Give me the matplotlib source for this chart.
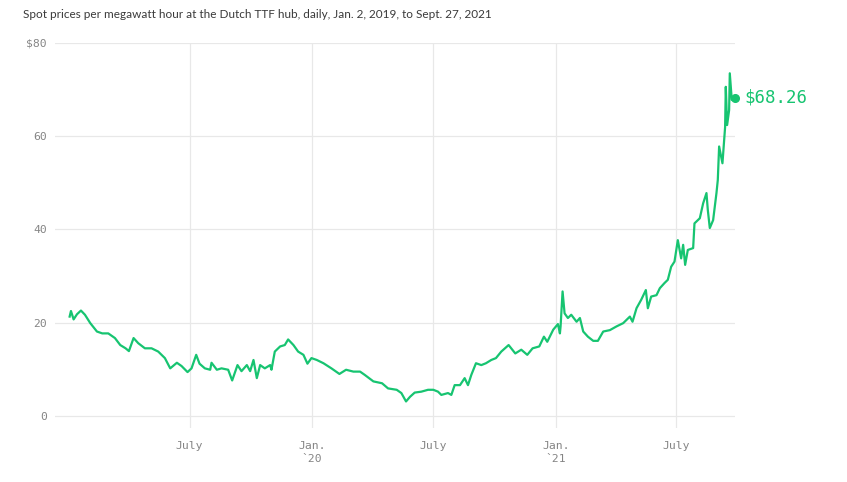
import matplotlib
matplotlib.use("Agg")
import matplotlib.pyplot as plt
import pandas as pd

title = "Spot prices per megawatt hour at the Dutch TTF hub, daily, Jan. 2, 2019, to Sept. 27, 2021"

dates = [
    "2019-01-02", "2019-01-04", "2019-01-08", "2019-01-13", "2019-01-19", "2019-01-25",
    "2019-02-02", "2019-02-12", "2019-02-20", "2019-03-01", "2019-03-11", "2019-03-19",
    "2019-03-27", "2019-04-01", "2019-04-08", "2019-04-15", "2019-04-25", "2019-05-05",
    "2019-05-15", "2019-05-25", "2019-06-02", "2019-06-12", "2019-06-19", "2019-06-28",
    "2019-07-04", "2019-07-11", "2019-07-16", "2019-07-24", "2019-08-01", "2019-08-03",
    "2019-08-11", "2019-08-18", "2019-08-28", "2019-09-03", "2019-09-11", "2019-09-17",
    "2019-09-25", "2019-09-30", "2019-10-05", "2019-10-10", "2019-10-15", "2019-10-22",
    "2019-10-30", "2019-11-01", "2019-11-06", "2019-11-14", "2019-11-21", "2019-11-26",
    "2019-12-04", "2019-12-11", "2019-12-19", "2019-12-25", "2019-12-31",
    "2020-01-08", "2020-01-18", "2020-01-30", "2020-02-11", "2020-02-21", "2020-03-03",
    "2020-03-13", "2020-03-20", "2020-04-02", "2020-04-15", "2020-04-24", "2020-05-07",
    "2020-05-14", "2020-05-21", "2020-05-27", "2020-06-03", "2020-06-13", "2020-06-23",
    "2020-07-01", "2020-07-08", "2020-07-13", "2020-07-23", "2020-07-28", "2020-08-02",
    "2020-08-10", "2020-08-17", "2020-08-22", "2020-08-27", "2020-09-03", "2020-09-11",
    "2020-09-18", "2020-09-26", "2020-10-03", "2020-10-11", "2020-10-22", "2020-11-01",
    "2020-11-10", "2020-11-19", "2020-11-27", "2020-12-07", "2020-12-14", "2020-12-19",
    "2020-12-28", "2021-01-04", "2021-01-07", "2021-01-08", "2021-01-11", "2021-01-14",
    "2021-01-19", "2021-01-24", "2021-02-01", "2021-02-06", "2021-02-11", "2021-02-18",
    "2021-02-26", "2021-03-05", "2021-03-13", "2021-03-23", "2021-04-02", "2021-04-12",
    "2021-04-22", "2021-04-26", "2021-05-02", "2021-05-09", "2021-05-16", "2021-05-19",
    "2021-05-24", "2021-06-01", "2021-06-06", "2021-06-13", "2021-06-18", "2021-06-23",
    "2021-06-28", "2021-07-03", "2021-07-08", "2021-07-11", "2021-07-14", "2021-07-18",
    "2021-07-26", "2021-07-28", "2021-08-05", "2021-08-10", "2021-08-15", "2021-08-17",
    "2021-08-20", "2021-08-25", "2021-08-30", "2021-09-01", "2021-09-03", "2021-09-08",
    "2021-09-12", "2021-09-13", "2021-09-15", "2021-09-18", "2021-09-19", "2021-09-22",
    "2021-09-27",
]

prices = [
    21.3, 22.5, 20.7, 21.8, 22.6, 21.7,
    19.9, 18.1, 17.7, 17.7, 16.7, 15.2,
    14.5, 13.9, 16.7, 15.6, 14.5, 14.5,
    13.8, 12.4, 10.2, 11.4, 10.7, 9.4,
    10.2, 13.1, 11.2, 10.2, 9.9, 11.4,
    9.9, 10.2, 9.9, 7.6, 10.9, 9.6,
    10.9, 9.6, 12.0, 8.1, 10.9, 10.2,
    10.9, 9.9, 13.8, 14.9, 15.2, 16.4,
    15.2, 13.8, 13.1, 11.2, 12.4,
    12.0, 11.3, 10.2, 9.0, 9.9, 9.5,
    9.5, 8.8, 7.4, 7.0, 5.9, 5.6,
    4.9, 3.1, 4.1, 5.0, 5.2, 5.6,
    5.6, 5.2, 4.5, 4.9, 4.5, 6.6,
    6.6, 8.1, 6.6, 8.8, 11.3, 10.9,
    11.3, 12.0, 12.4, 13.8, 15.2, 13.4,
    14.2, 13.1, 14.5, 14.9, 17.0, 15.9,
    18.5, 19.7, 17.7, 19.2, 26.7, 22.0,
    21.0, 21.7, 20.2, 21.0, 18.1, 17.0,
    16.1, 16.1, 18.1, 18.4, 19.2, 19.9,
    21.3, 20.2, 23.1, 24.9, 27.0, 23.1,
    25.6, 25.9, 27.4, 28.5, 29.2, 32.0,
    33.1, 37.7, 33.8, 36.7, 32.4, 35.6,
    36.0, 41.3, 42.4, 45.6, 47.8, 44.2,
    40.3, 42.0, 47.8, 50.6, 57.8, 54.2,
    62.0, 70.6, 62.4, 65.6, 73.5, 67.8,
    68.26,
]

y_ticks = [0, 20, 40, 60, 80]
y_tick_labels = ["0", "20", "40", "60", "$80"]
x_ticks = ["2019-07-01", "2020-01-01", "2020-07-01", "2021-01-01", "2021-07-01"]
x_tick_labels = ["July", "Jan.\n`20", "July", "Jan.\n`21", "July"]
last_label = "$68.26"

GREEN = "#17c471"
GRID = "#e8e8e8"
TICK = "#858585"
MONO = "DejaVu Sans Mono"

d = pd.to_datetime(dates)
fig = plt.figure(figsize=(8.47, 4.82), dpi=100)
ax = fig.add_axes([0.0649, 0.1120, 0.8030, 0.7988])

ax.plot(d, prices, color=GREEN, lw=1.6, solid_joinstyle="round", zorder=3)
ax.plot([d[-1]], [prices[-1]], "o", color=GREEN, ms=5.5, zorder=4, clip_on=False)
ax.annotate(last_label, (d[-1], prices[-1]), xytext=(7, 0), textcoords="offset points",
            va="center", ha="left", color=GREEN, fontsize=12.5, family=MONO,
            annotation_clip=False)

ax.set_xlim(pd.Timestamp("2018-12-11"), pd.Timestamp("2021-09-27"))
ax.set_ylim(-2.6, 80)
ax.set_yticks(y_ticks)
ax.set_yticklabels(y_tick_labels)
ax.set_xticks(pd.to_datetime(x_ticks))
ax.set_xticklabels(x_tick_labels)
for lab in ax.get_xticklabels():
    lab.set_linespacing(1.4)

ax.tick_params(axis="both", length=0, colors=TICK, labelsize=8.2)
ax.tick_params(axis="x", pad=9)
ax.tick_params(axis="y", pad=6)
for lab in ax.get_xticklabels() + ax.get_yticklabels():
    lab.set_family(MONO)

ax.grid(True, color=GRID, lw=0.9)
for s in ax.spines.values():
    s.set_visible(False)

fig.text(23 / 847, 1 - 15 / 482, title, ha="left", va="center",
         fontsize=8.5, color="#3a3a3a", family="Lato")

fig.savefig("out.png", dpi=100, facecolor="white")
